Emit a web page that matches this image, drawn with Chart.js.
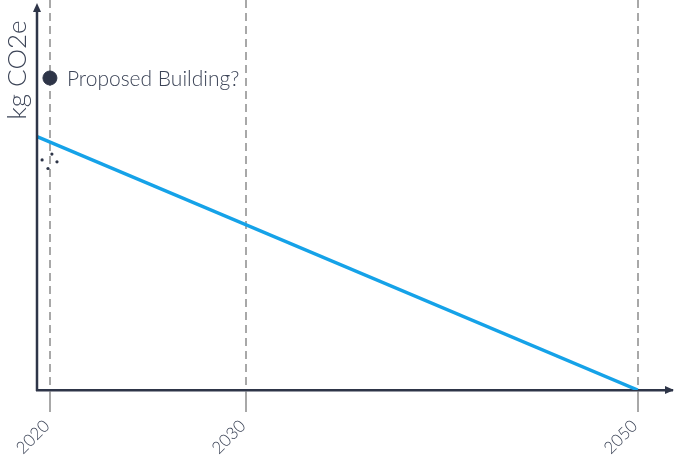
<!DOCTYPE html>
<html>
<head>
<meta charset="utf-8">
<script src="https://cdn.jsdelivr.net/npm/chart.js@4/dist/chart.umd.min.js"></script>
<style>
  html, body { margin: 0; padding: 0; background: #fff; }
  #wrap { width: 676px; height: 462px; }
</style>
</head>
<body>
<div id="wrap"><canvas id="chart"></canvas></div>
<script>
// ── Data ───────────────────────────────────────────────────────────────────────
const tickYears = [2020, 2030, 2050];
const tickLabels = ['2020', '2030', '2050'];

const baselineYears = [2019.34, 2050];
const baselineValues = [65, 0];

const proposedYear = [2020];
const proposedValue = [80];
const proposedLabel = 'Proposed Building?';

const clusterYears = [2019.6, 2020.1, 2019.9, 2020.36];
const clusterValues = [59, 60.5, 56.8, 58.5];

const X_MIN = 2019.34;
const X_MAX = 2051.75;
const Y_MAX = 100;

const NAVY = '#2e3548';
const TEXT = '#3c4457';
const BLUE = '#15a2e8';
const FONT = 'Lato, "Open Sans", sans-serif';

// ── Plugin: axis arrows, y title, point label ─────────────────────────────────
const decorations = {
  id: 'decorations',
  afterDraw(chart) {
    const { ctx, chartArea } = chart;
    const { left, right, top, bottom } = chartArea;
    ctx.save();
    ctx.strokeStyle = NAVY;
    ctx.fillStyle = NAVY;
    ctx.lineWidth = 2.5;

    // y axis line
    ctx.beginPath();
    ctx.moveTo(left, bottom + 1);
    ctx.lineTo(left, top + 8);
    ctx.stroke();
    // y arrow
    ctx.beginPath();
    ctx.moveTo(left, top + 3);
    ctx.lineTo(left - 4, top + 12);
    ctx.lineTo(left + 4, top + 12);
    ctx.closePath();
    ctx.fill();
    // x arrow
    ctx.beginPath();
    ctx.moveTo(right + 2, bottom);
    ctx.lineTo(right - 7, bottom - 4);
    ctx.lineTo(right - 7, bottom + 4);
    ctx.closePath();
    ctx.fill();

    // y title
    ctx.fillStyle = TEXT;
    ctx.font = '300 26px ' + FONT;
    ctx.textAlign = 'center';
    ctx.textBaseline = 'middle';
    ctx.translate(18, 70);
    ctx.rotate(-Math.PI / 2);
    ctx.fillText('kg CO2e', 0, 0);
    ctx.restore();

    // label next to the proposed point
    const meta = chart.getDatasetMeta(1);
    const pt = meta.data[0];
    ctx.save();
    ctx.fillStyle = TEXT;
    ctx.font = '300 21px ' + FONT;
    ctx.textAlign = 'left';
    ctx.textBaseline = 'middle';
    ctx.fillText(proposedLabel, pt.x + 17, pt.y + 1);
    ctx.restore();
  }
};

// ── Chart ──────────────────────────────────────────────────────────────────────
new Chart(document.getElementById('chart'), {
  type: 'scatter',
  data: {
    datasets: [
      {
        type: 'line',
        label: 'Baseline',
        data: baselineYears.map((x, i) => ({ x, y: baselineValues[i] })),
        borderColor: BLUE,
        borderWidth: 3.5,
        pointRadius: 0,
        fill: false,
        order: 2,
      },
      {
        label: proposedLabel,
        data: proposedYear.map((x, i) => ({ x, y: proposedValue[i] })),
        backgroundColor: NAVY,
        borderColor: NAVY,
        pointRadius: 7,
        order: 1,
      },
      {
        label: 'Cluster',
        data: clusterYears.map((x, i) => ({ x, y: clusterValues[i] })),
        backgroundColor: NAVY,
        borderColor: NAVY,
        pointRadius: 1.6,
        borderWidth: 0,
        order: 1,
      },
    ],
  },
  options: {
    responsive: true,
    maintainAspectRatio: false,
    animation: false,
    layout: { autoPadding: false, padding: { left: 37, right: 4, top: 0, bottom: 0 } },
    plugins: {
      legend: { display: false },
      tooltip: { enabled: false },
    },
    scales: {
      x: {
        type: 'linear',
        min: X_MIN,
        max: X_MAX,
        afterBuildTicks: (scale) => {
          scale.ticks = tickYears.map(v => ({ value: v }));
        },
        afterFit: (scale) => { scale.height = 72; },
        ticks: {
          autoSkip: false,
          minRotation: 45,
          maxRotation: 45,
          padding: 4,
          labelOffset: -3,
          color: TEXT,
          font: { family: FONT, size: 17, weight: 300 },
          callback: (v) => tickLabels[tickYears.indexOf(v)],
        },
        grid: {
          color: '#a8a8a8',
          lineWidth: 2,
          tickLength: 22,
          drawTicks: true,
        },
        border: {
          display: true,
          color: NAVY,
          width: 2.5,
          dash: [8, 5],
        },
      },
      y: {
        display: false,
        min: 0,
        max: Y_MAX,
      },
    },
  },
  plugins: [decorations],
});
</script>
</body>
</html>
